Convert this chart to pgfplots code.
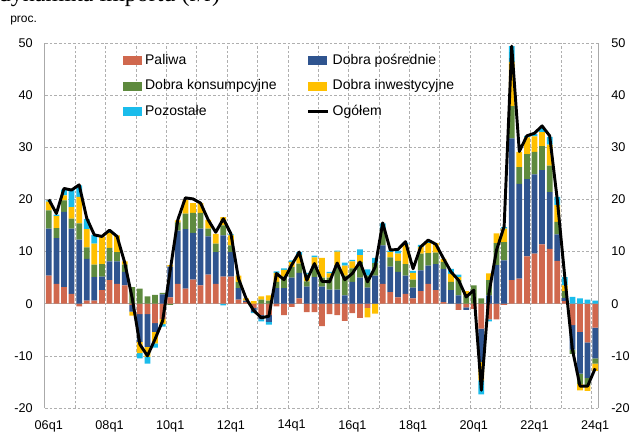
\documentclass[border=0pt]{standalone}
\usepackage{fontspec}
\setmainfont{Liberation Sans}
\newfontfamily\titlefont{Liberation Serif}
\usepackage{pgfplots}
\usepackage{pgfplotstable}
\pgfplotsset{compat=1.18}
\definecolor{palc}{RGB}{208,104,78}
\definecolor{posc}{RGB}{47,84,143}
\definecolor{konc}{RGB}{94,138,62}
\definecolor{inwc}{RGB}{255,192,0}
\definecolor{pozc}{RGB}{26,188,235}
\definecolor{gridc}{RGB}{175,175,175}
\definecolor{axc}{RGB}{170,170,170}

\pgfplotstableread{
q pal pos kon inw poz tot
0 5.4 9.0 3.5 1.7 0.2 20.0
1 3.8 8.8 1.9 2.3 0.3 17.3
2 3.2 14.4 2.2 1.0 1.1 22.1
3 1.9 12.5 1.9 2.2 3.5 21.8
4 -0.5 12.3 3.1 5.1 2.2 22.8
5 0.6 8.0 2.2 3.5 1.9 16.4
6 0.6 4.5 2.4 4.0 1.7 13.2
7 2.6 2.6 2.4 5.3 0.0 12.9
8 4.5 3.6 2.6 2.9 0.4 14.1
9 3.8 4.3 1.8 3.2 0.0 12.9
10 3.5 2.6 1.4 0.6 0.0 7.9
11 -0.2 -1.3 3.2 -0.8 0.0 1.0
12 -2.0 -5.3 2.9 -2.2 -1.0 -7.8
13 -2.0 -6.3 1.4 -1.9 -1.3 -10.0
14 -3.7 -1.7 1.7 -2.2 -0.8 -6.8
15 -2.9 1.8 0.3 -1.0 -0.5 -3.3
16 1.2 5.9 -0.2 0.3 0.0 6.4
17 3.8 10.2 1.6 0.4 0.0 16.1
18 2.9 11.4 3.0 2.6 0.0 20.3
19 4.6 9.0 3.8 1.9 0.0 20.1
20 3.5 10.9 3.0 1.9 0.0 19.3
21 5.6 7.3 1.5 1.7 0.0 16.1
22 3.8 6.1 1.6 1.9 0.0 13.7
23 5.2 7.9 1.9 1.6 -0.3 16.3
24 5.2 4.7 1.3 1.9 0.2 13.4
25 0.8 2.2 1.2 1.2 0.0 4.8
26 0.3 0.3 0.0 0.4 0.0 1.0
27 -0.8 -0.8 0.0 0.5 -0.2 -1.3
28 -2.2 -0.8 0.8 0.6 -0.4 -2.7
29 -2.2 -1.3 0.6 1.0 -0.5 -2.4
30 -0.5 3.0 1.2 1.7 0.3 5.8
31 -2.2 3.0 2.2 1.3 0.3 4.6
32 -0.6 5.0 2.0 1.0 0.3 7.4
33 1.0 4.9 1.8 1.6 0.6 9.9
34 -1.6 3.3 1.0 1.3 0.3 4.5
35 -1.6 5.1 2.2 1.6 0.3 7.7
36 -4.3 3.3 1.7 3.8 0.0 4.3
37 -2.0 2.7 2.3 0.8 0.3 4.2
38 -2.2 2.7 4.7 2.6 0.2 7.8
39 -3.3 1.6 3.8 1.9 0.6 4.6
40 -1.8 4.2 2.6 1.3 0.3 5.8
41 -2.7 5.0 3.0 1.3 1.1 8.0
42 -0.8 3.1 2.3 -1.8 1.2 4.2
43 0.0 5.4 2.4 -1.9 1.0 7.0
44 3.8 7.4 3.0 0.0 1.2 15.5
45 2.2 4.9 1.8 1.0 0.3 10.3
46 1.2 4.9 2.1 1.4 0.6 10.4
47 1.9 3.5 2.2 3.8 0.3 11.9
48 1.0 2.1 1.5 1.3 0.4 6.7
49 2.4 4.0 3.2 1.3 0.4 10.9
50 3.8 3.5 2.4 1.9 0.4 12.2
51 2.6 5.0 2.2 1.8 0.0 11.4
52 0.3 6.4 1.3 0.6 0.0 8.7
53 0.0 2.6 1.6 1.5 1.0 6.1
54 -1.2 1.6 2.9 0.6 0.5 4.5
55 -0.7 -0.5 1.6 0.8 0.0 1.3
56 -1.0 0.0 3.5 0.0 0.0 2.6
57 -4.8 -6.4 1.0 -3.5 -2.7 -16.6
58 -3.0 1.6 2.9 1.3 -0.4 2.0
59 -3.0 7.4 4.2 1.9 0.0 10.3
60 -0.2 8.3 3.5 2.6 0.3 14.8
61 4.5 27.2 6.2 8.5 3.0 49.4
62 4.8 18.2 3.2 2.9 0.0 29.2
63 9.1 14.8 4.8 3.2 0.3 32.2
64 9.6 15.2 4.3 3.0 0.4 32.7
65 11.4 14.2 4.6 2.7 0.8 34.1
66 10.5 10.9 5.1 4.0 1.5 32.2
67 8.2 5.1 2.4 3.2 1.6 20.0
68 0.5 0.6 1.3 1.1 1.6 5.0
69 -4.1 -4.7 -0.8 0.0 1.3 -8.8
70 -5.4 -8.0 -2.0 -1.2 1.0 -15.8
71 -7.4 -6.8 -1.5 -1.0 0.8 -15.8
72 -4.6 -5.9 -1.0 -1.4 0.6 -12.4
}\data

\pgfplotsset{
  base/.style={
    width=415.5pt, height=273.75pt, scale only axis,
    at={(33.75pt,20.25pt)}, anchor=south west,
    xmin=-0.5, xmax=72.5, ymin=-20, ymax=50,
    ytick={-20,-10,...,50},
    xtick={0,8,...,72},
    major tick length=0pt, minor tick length=0pt,
    /pgf/number format/assume math mode=true,
    tick label style={font=\fontsize{9.5}{11}\selectfont},
  },
}

\begin{document}
\begin{tikzpicture}
\useasboundingbox (0,0) rectangle (483pt,326.25pt);
\node[anchor=base west, inner sep=0pt, font=\titlefont\fontsize{18}{20}\selectfont] at (-1pt,325.2pt) {dynamika importu (r/r)};
\node[anchor=base west, inner sep=0pt, font=\fontsize{9}{11}\selectfont] at (7.5pt,309pt) {proc.};

% negative parts, grid, left & bottom labels
\begin{axis}[base, ybar stacked, bar width=0.76,
  separate axis lines,
  x axis line style={draw=none},
  y axis line style={draw=axc, line width=0.75pt},
  ymajorgrids,
  minor xtick={3.5,7.5,...,71.5}, xminorgrids,
  grid style={draw=gridc, dash pattern=on 2pt off 1.5pt, line width=0.5pt},
  xticklabels={06q1,08q1,10q1,12q1,14q1,16q1,18q1,20q1,22q1,24q1},
  xticklabel style={anchor=north, inner sep=0pt, yshift=-9pt},
  yticklabel style={anchor=east, inner sep=0pt, xshift=-9pt},
  extra y ticks={0}, extra y tick labels={},
  extra y tick style={major grid style={solid, draw=axc, line width=0.75pt}},
]
\addplot[fill=palc, draw=none] table[x=q, y expr={min(\thisrow{pal},0)}] {\data};
\addplot[fill=posc, draw=none] table[x=q, y expr={min(\thisrow{pos},0)}] {\data};
\addplot[fill=konc, draw=none] table[x=q, y expr={min(\thisrow{kon},0)}] {\data};
\addplot[fill=inwc, draw=none] table[x=q, y expr={min(\thisrow{inw},0)}] {\data};
\addplot[fill=pozc, draw=none] table[x=q, y expr={min(\thisrow{poz},0)}] {\data};
\end{axis}

% positive parts
\begin{axis}[base, ybar stacked, bar width=0.76, hide axis]
\addplot[fill=palc, draw=none] table[x=q, y expr={max(\thisrow{pal},0)}] {\data};
\addplot[fill=posc, draw=none] table[x=q, y expr={max(\thisrow{pos},0)}] {\data};
\addplot[fill=konc, draw=none] table[x=q, y expr={max(\thisrow{kon},0)}] {\data};
\addplot[fill=inwc, draw=none] table[x=q, y expr={max(\thisrow{inw},0)}] {\data};
\addplot[fill=pozc, draw=none] table[x=q, y expr={max(\thisrow{poz},0)}] {\data};
\end{axis}

% total line, legend, right labels
\begin{axis}[base,
  separate axis lines,
  axis line style={draw=none},
  xtick=\empty,
  yticklabel pos=right,
  yticklabel style={anchor=west, inner sep=0pt, xshift=9pt},
  legend columns=2,
  legend cell align=left,
  legend style={at={(axis description cs:0.1408,0.971)}, anchor=north west,
    draw=none, fill=none, inner sep=0pt, row sep=10.2pt,
    font=\fontsize{10.5}{12}\selectfont,
    nodes={inner sep=0pt},
    /tikz/every odd column/.append style={column sep=2.5pt},
    /tikz/every even column/.append style={column sep=0pt}},
]
\addlegendimage{legend image code/.code={\fill[palc] (0pt,-3pt) rectangle (13.5pt,3pt);}}
\addlegendimage{legend image code/.code={\fill[posc] (0pt,-3pt) rectangle (13.5pt,3pt);}}
\addlegendimage{legend image code/.code={\fill[konc] (0pt,-3pt) rectangle (13.5pt,3pt);}}
\addlegendimage{legend image code/.code={\fill[inwc] (0pt,-3pt) rectangle (13.5pt,3pt);}}
\addlegendimage{legend image code/.code={\fill[pozc] (0pt,-3pt) rectangle (13.5pt,3pt);}}
\addplot[black, line width=2.2pt, line join=round, mark=none,
  legend image code/.code={\draw[black, line width=2.2pt] (0pt,0pt) -- (15pt,0pt);}]
  table[x=q, y=tot] {\data};
\legend{\makebox[121pt][l]{Paliwa}, Dobra pośrednie,
  \makebox[121pt][l]{Dobra konsumpcyjne}, Dobra inwestycyjne,
  \makebox[121pt][l]{Pozostałe}, Ogółem}
\end{axis}
\end{tikzpicture}
\end{document}
